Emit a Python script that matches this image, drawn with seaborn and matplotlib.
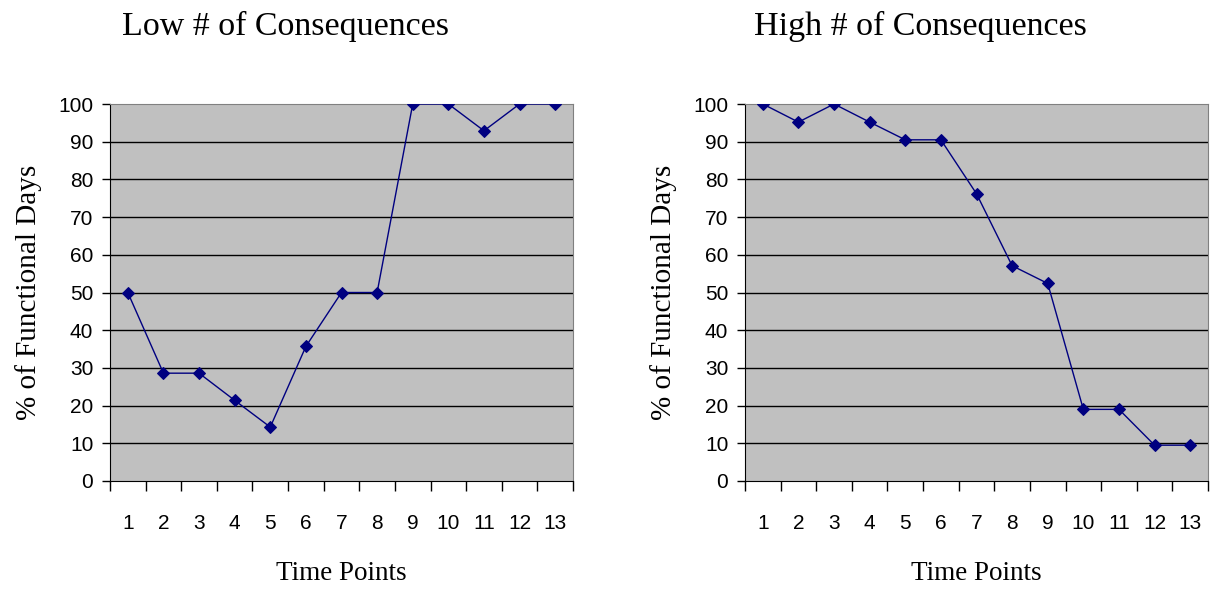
import numpy as np
import pandas as pd
import matplotlib.pyplot as plt
import seaborn as sns

# values
time_points = list(range(1, 14))
low_values = [50, 28.6, 28.6, 21.4, 14.3, 35.7, 50, 50, 100, 100, 92.9, 100, 100]
high_values = [100, 95.2, 100, 95.2, 90.5, 90.5, 76.2, 57.1, 52.4, 19.0, 19.0, 9.5, 9.5]
titles = ["Low # of Consequences", "High # of Consequences"]
y_ticks = list(range(0, 101, 10))

sns.set_style("white")
plt.rcParams["text.color"] = "black"
plt.rcParams["axes.labelcolor"] = "black"
plt.rcParams["xtick.color"] = "black"
plt.rcParams["ytick.color"] = "black"
serif = "Liberation Serif"
sans = "Liberation Sans"

fig = plt.figure(figsize=(12.17, 5.93), dpi=100)
lefts = [110 / 1217, 745 / 1217]
width = 463 / 1217
bottom = (593 - 481) / 593
height = 377 / 593

for left, vals, title in zip(lefts, [low_values, high_values], titles):
    ax = fig.add_axes([left, bottom, width, height])
    df = pd.DataFrame({"Time": time_points, "Pct": vals})
    sns.lineplot(data=df, x="Time", y="Pct", ax=ax, color="#000080",
                 marker="D", markersize=6.5, markeredgecolor="#000080",
                 linewidth=1.0, zorder=3)
    ax.set_facecolor("#C0C0C0")
    ax.set_xlim(0.5, 13.5)
    ax.set_ylim(0, 100)
    ax.set_yticks(y_ticks)
    for yv in y_ticks[1:-1]:
        ax.axhline(yv, color="black", linewidth=1, zorder=1)
    ax.set_xticks(time_points)
    ax.set_xticks(np.arange(0.5, 14, 1), minor=True)
    ax.tick_params(axis="x", which="major", bottom=True, length=0, pad=24,
                   labelsize=15)
    ax.tick_params(axis="x", which="minor", bottom=True, length=7, width=1,
                   color="black", direction="out")
    ax.tick_params(axis="y", left=True, length=6, width=1, color="black",
                   direction="out", pad=6, labelsize=15)
    for lab in ax.get_xticklabels() + ax.get_yticklabels():
        lab.set_fontfamily(sans)
    for side in ["top", "right"]:
        ax.spines[side].set_color("#808080")
    for side in ["left", "bottom"]:
        ax.spines[side].set_color("black")
    ax.set_xlabel("Time Points", fontfamily=serif, fontsize=19.5, labelpad=20)
    ax.set_ylabel("% of Functional Days", fontfamily=serif, fontsize=21, labelpad=12)
    fig.text(left + width / 2 - 56 / 1217, 1 - 26 / 593, title, ha="center",
             va="center", fontfamily=serif, fontsize=24.5)

plt.savefig("out.png", dpi=100)
